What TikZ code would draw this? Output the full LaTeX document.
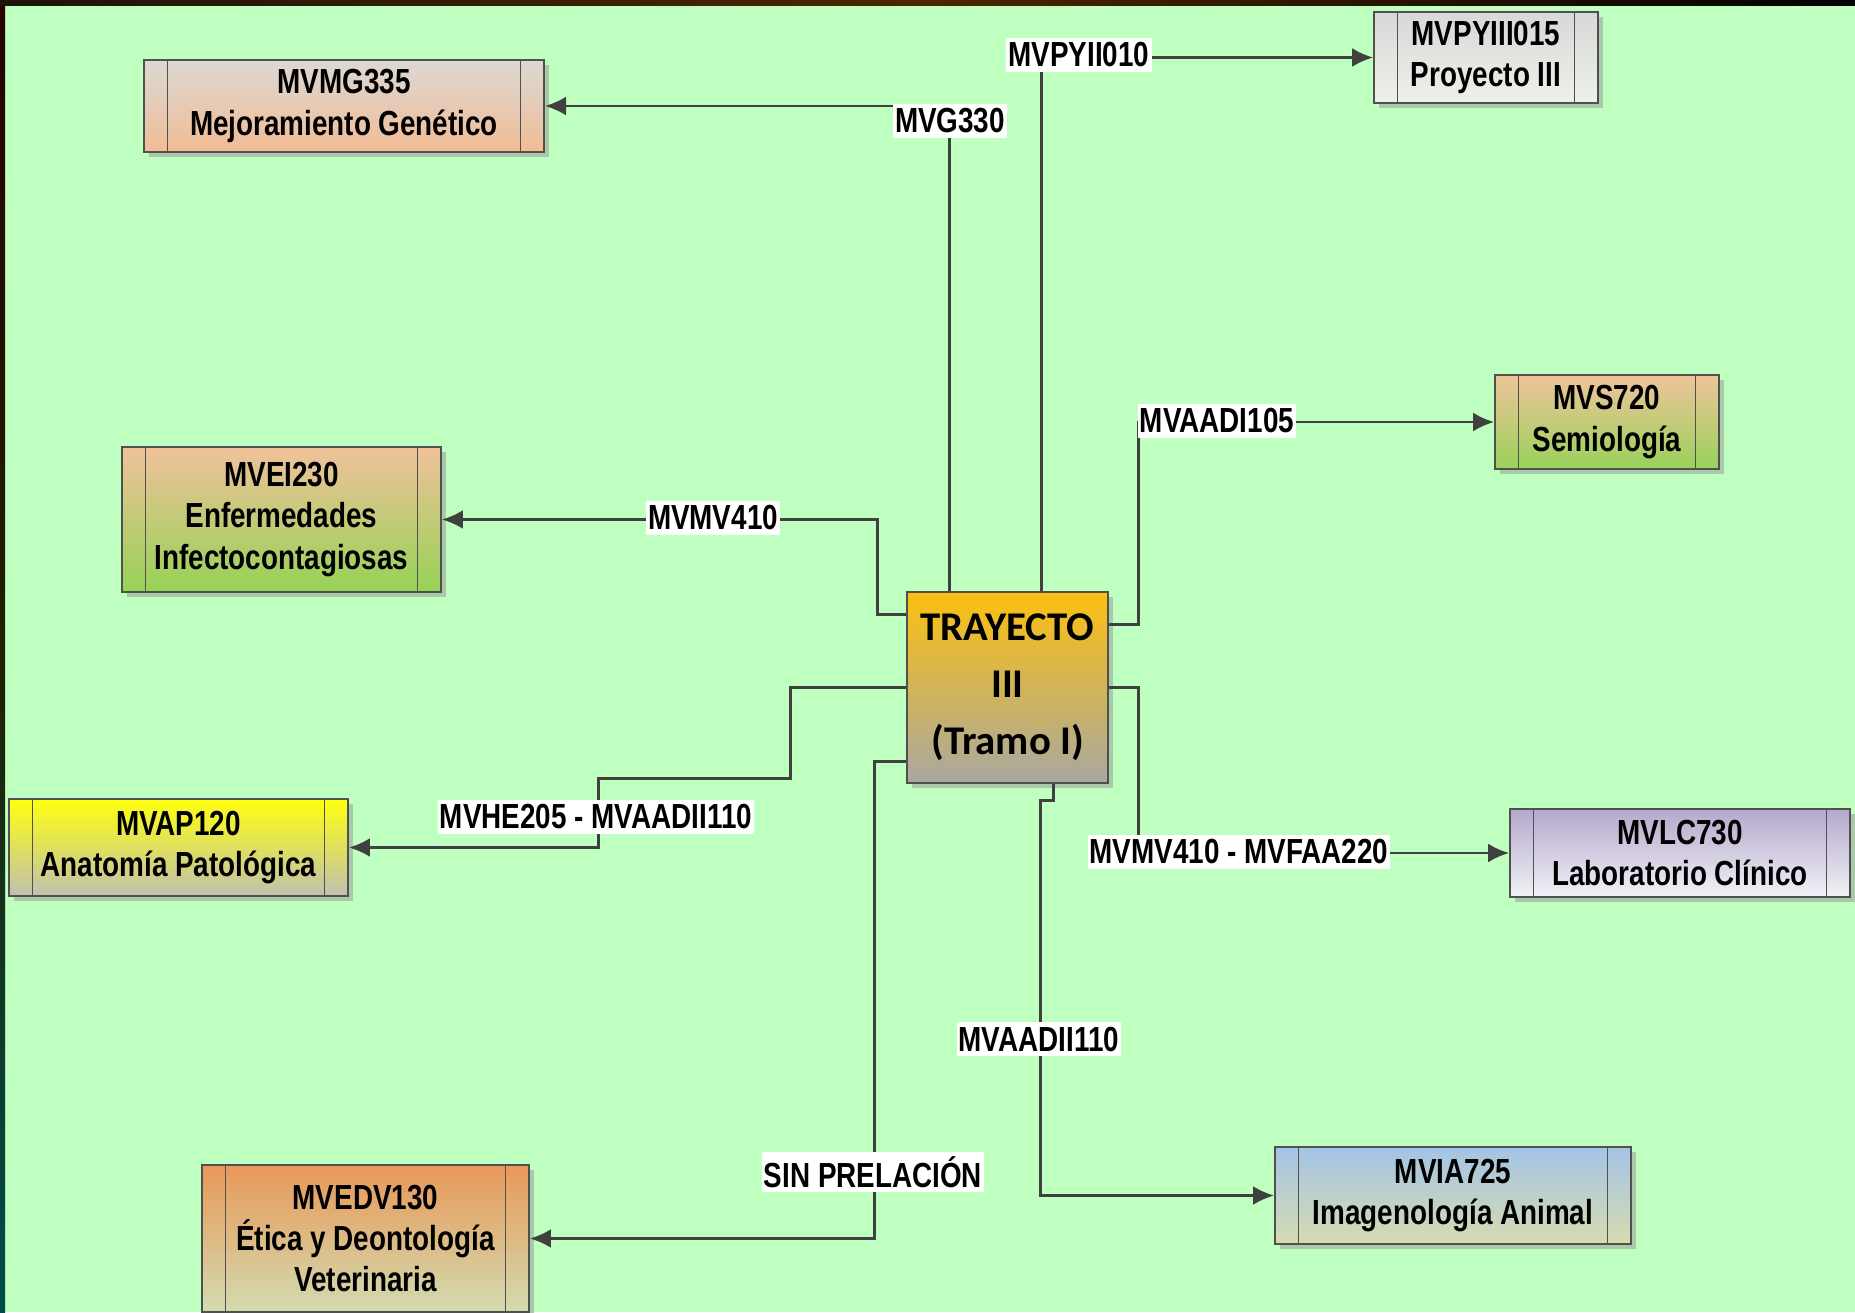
\documentclass[tikz,border=0pt]{standalone}
\usepackage{fontspec}
\setmainfont{Liberation Sans}[FakeStretch=0.8]
\newfontfamily\trayfont{Carlito}
\usetikzlibrary{arrows.meta,calc,shadows}

\definecolor{bgreen}{RGB}{191,255,191}
\definecolor{boxline}{RGB}{80,80,80}
\definecolor{linkc}{RGB}{64,64,64}
\definecolor{shadowc}{RGB}{170,200,170}

\begin{document}
\begin{tikzpicture}[x=0.01cm,y=-0.01cm,
    subj/.style={draw=boxline,line width=0.45pt,align=center,inner sep=0pt,
        font=\bfseries\fontsize{9.9}{11.7}\selectfont,
        drop shadow={shadow xshift=1.4pt,shadow yshift=-1.4pt,fill=shadowc,opacity=1},
        path picture={\draw[boxline,line width=0.35pt]
            ([xshift=6.7pt]path picture bounding box.north west) -- ([xshift=6.7pt]path picture bounding box.south west)
            ([xshift=-6.7pt]path picture bounding box.north east) -- ([xshift=-6.7pt]path picture bounding box.south east);}},
    link/.style={draw=linkc,line width=0.8pt,-{Latex[length=6pt,width=5.4pt]}},
    tag/.style={fill=white,inner xsep=0.6pt,inner ysep=1.3pt,
        font=\bfseries\fontsize{9.9}{11.7}\selectfont}]
    \useasboundingbox (0,0) rectangle (1855,1312);
    \fill[bgreen] (0,0) rectangle (1855,1312);
    % dark frame edges
    \shade[top color=black!85!red,bottom color=black!70!cyan,middle color=black!75!olive] (0,0) rectangle (5,1312);
    \shade[left color=black!85!brown,right color=black,middle color=black!70!orange] (0,0) rectangle (1855,5);

    % subjects
    \node[subj,top color={rgb,255:red,220;green,216;blue,212},bottom color={rgb,255:red,242;green,188;blue,148},
        minimum width=4cm,minimum height=0.92cm] (mvmg) at (344,106) {MVMG335\\Mejoramiento Genético};
    \node[subj,top color={rgb,255:red,216;green,216;blue,216},bottom color={rgb,255:red,238;green,242;blue,234},
        minimum width=2.24cm,minimum height=0.91cm] (mvpy) at (1486,57.5) {MVPYIII015\\Proyecto III};
    \node[subj,top color={rgb,255:red,240;green,196;blue,154},bottom color={rgb,255:red,152;green,210;blue,90},
        minimum width=2.24cm,minimum height=0.94cm] (mvs) at (1607,422) {MVS720\\Semiología};
    \node[subj,top color={rgb,255:red,240;green,194;blue,154},bottom color={rgb,255:red,150;green,210;blue,86},
        minimum width=3.19cm,minimum height=1.45cm] (mvei) at (281.5,519.5) {MVEI230\\Enfermedades\\Infectocontagiosas};
    \node[subj,top color={rgb,255:red,255;green,255;blue,16},bottom color={rgb,255:red,192;green,192;blue,176},
        minimum width=3.39cm,minimum height=0.97cm] (mvap) at (178.5,847.5) {MVAP120\\Anatomía Patológica};
    \node[subj,top color={rgb,255:red,232;green,152;blue,88},bottom color={rgb,255:red,210;green,220;blue,176},
        minimum width=3.27cm,minimum height=1.47cm] (mvedv) at (365.5,1238.5) {MVEDV130\\Ética y Deontología\\Veterinaria};
    \node[subj,top color={rgb,255:red,180;green,168;blue,204},bottom color={rgb,255:red,242;green,242;blue,246},
        minimum width=3.4cm,minimum height=0.88cm] (mvlc) at (1680,853) {MVLC730\\Laboratorio Clínico};
    \node[subj,top color={rgb,255:red,164;green,196;blue,230},bottom color={rgb,255:red,214;green,220;blue,176},
        minimum width=3.56cm,minimum height=0.97cm] (mvia) at (1453,1195.5) {MVIA725\\Imagenología Animal};

    % centre
    \node[draw=boxline,line width=0.45pt,align=center,inner sep=0pt,
        top color={rgb,255:red,252;green,192;blue,16},bottom color={rgb,255:red,168;green,168;blue,160},
        drop shadow={shadow xshift=1.4pt,shadow yshift=-1.4pt,fill=shadowc,opacity=1},
        minimum width=2.01cm,minimum height=1.91cm,font=\trayfont\bfseries\fontsize{11.6}{16.2}\selectfont]
        (tray) at (1007.5,687.5) {TRAYECTO\\III\\(Tramo I)};

    % prerequisites
    \draw[link] ($(tray.north west)+(135,0)$) |- (mvpy.west);
    \draw[link] ($(tray.north west)+(43,0)$) |- (mvmg.east);
    \draw[link] ($(tray.north west)+(0,23)$) -- ++(-29,0) |- (mvei.east);
    \draw[link] (tray.west) -- ++(-116,0) -- ++(0,91) -- ++(-192,0) |- (mvap.east);
    \draw[link] ($(tray.south west)+(0,-22)$) -- ++(-32,0) |- (mvedv.east);
    \draw[link] ($(tray.north east)+(0,33)$) -- ++(30,0) |- (mvs.west);
    \draw[link] (tray.east) -- ++(30,0) |- (mvlc.west);
    \draw[link] ($(tray.south west)+(147,0)$) -- ++(0,17) -- ++(-13,0) |- (mvia.west);

    \node[tag] (tpy) at (1079,55) {MVPYII010};
    \node[tag] (tg) at (950,121) {MVG330};
    \node[tag] (tmv) at (713,518) {MVMV410};
    \node[tag] (the) at (596,817) {MVHE205 - MVAADII110};
    \node[tag] (tsin) at (873,1172) {SIN PRELACIÓN};
    \node[tag] (taa) at (1217,421) {MVAADI105};
    \node[tag] (tfaa) at (1239,852) {MVMV410 - MVFAA220};
    \node[tag] (tii) at (1039,1039) {MVAADII110};
\end{tikzpicture}
\end{document}
